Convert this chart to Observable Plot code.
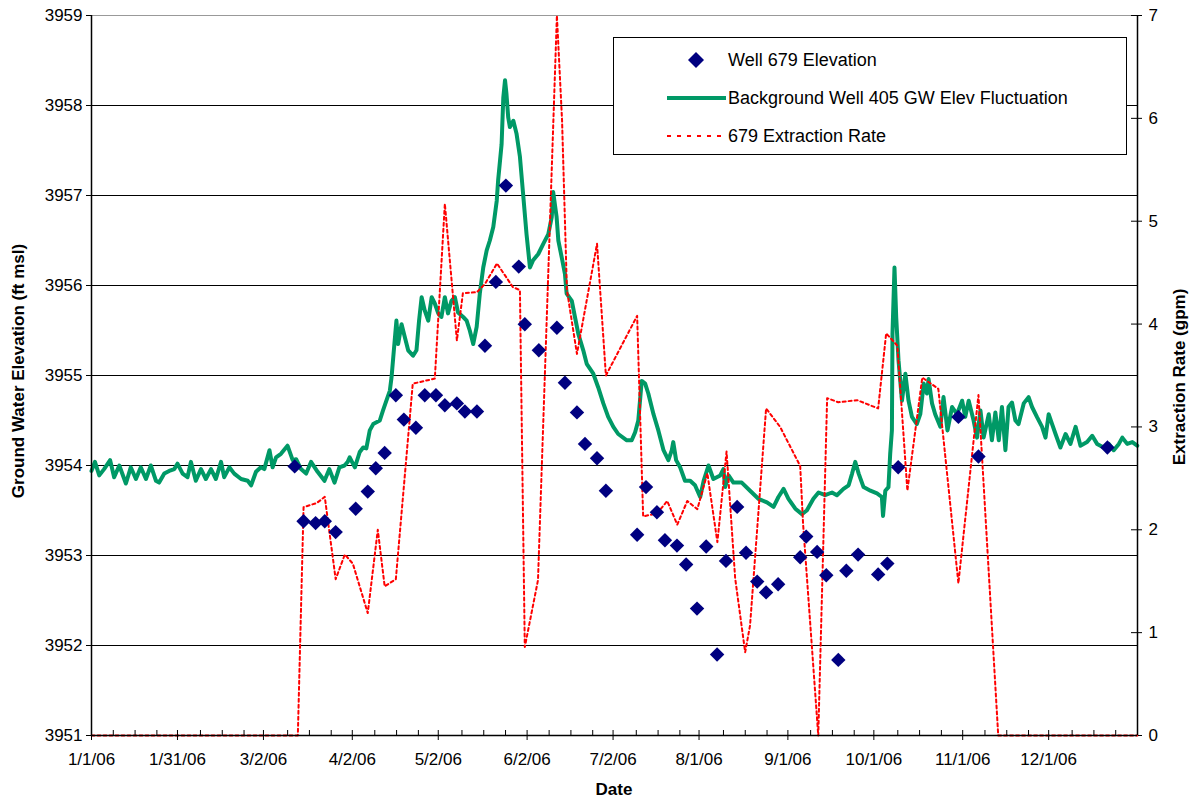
<!DOCTYPE html>
<html>
<head>
<meta charset="utf-8">
<script src="https://cdn.jsdelivr.net/npm/d3@7"></script>
<script src="https://cdn.jsdelivr.net/npm/@observablehq/plot@0.6"></script>
<style>
  body { margin: 0; background: #fff; font-family: Arial, "Liberation Sans", sans-serif; }
  #wrap { position: relative; width: 1192px; height: 802px; overflow: hidden; }
  #chart { position: absolute; left: 0; top: 0; }
  .title { position: absolute; font-weight: bold; font-size: 17px; color: #000; white-space: nowrap; }
  .vtitle { transform: translate(-50%, -50%) rotate(-90deg); }
  #legend { position: absolute; left: 613px; top: 37px; width: 514px; height: 118px; border: 1px solid #000; background: #fff; box-sizing: border-box; }
  .lrow { position: absolute; left: 0; height: 24px; width: 100%; }
  .lrow svg { position: absolute; left: 52px; top: 0; }
  .lrow span { position: absolute; left: 114px; top: 1px; font-size: 18px; line-height: 22px; color: #000; white-space: nowrap; }
</style>
</head>
<body>
<div id="wrap">
  <div id="chart"></div>
  <div class="title vtitle" style="left:19px; top:371px;">Ground Water Elevation (ft msl)</div>
  <div class="title vtitle" style="left:1180px; top:377px;">Extraction Rate (gpm)</div>
  <div class="title" style="left:614px; top:790px; transform: translate(-50%, -50%);">Date</div>
  <div id="legend">
    <div class="lrow" style="top:10px;">
      <svg width="62" height="24"><path d="M30,4 L38,12 L30,20 L22,12 Z" fill="#000080"/></svg>
      <span>Well 679 Elevation</span>
    </div>
    <div class="lrow" style="top:48px;">
      <svg width="62" height="24"><line x1="1" y1="12" x2="60" y2="12" stroke="#009966" stroke-width="4"/></svg>
      <span>Background Well 405 GW Elev Fluctuation</span>
    </div>
    <div class="lrow" style="top:86px;">
      <svg width="62" height="24"><line x1="1" y1="12" x2="60" y2="12" stroke="#ff0000" stroke-width="2" stroke-dasharray="4,6"/></svg>
      <span>679 Extraction Rate</span>
    </div>
  </div>
</div>
<script>
// ---------------- DATA ----------------
// Days are counted from 1/1/06.
const well679Day = [70.9,74.0,78.2,81.4,85.2,92.2,96.4,99.2,102.3,106.2,109.0,113.2,116.3,120.2,123.3,127.5,130.3,134.5,137.3,141.1,144.6,149.1,151.2,156.1,162.4,165.2,169.4,172.2,176.4,179.5,190.4,193.5,197.3,200.1,204.3,207.5,211.3,214.5,218.3,221.4,225.3,228.4,232.3,235.4,239.6,247.3,249.4,253.2,256.4,260.6,263.4,267.5,274.5,277.7,281.5,302.5,309.5,354.5];
const well679Elev = [3953.99,3953.38,3953.36,3953.38,3953.26,3953.52,3953.71,3953.97,3954.14,3954.78,3954.51,3954.42,3954.78,3954.78,3954.67,3954.69,3954.60,3954.60,3955.33,3956.04,3957.11,3956.21,3955.57,3955.28,3955.53,3954.92,3954.59,3954.24,3954.08,3953.72,3953.23,3953.76,3953.48,3953.17,3953.11,3952.90,3952.41,3953.10,3951.90,3952.94,3953.54,3953.03,3952.71,3952.59,3952.68,3952.98,3953.21,3953.04,3952.78,3951.84,3952.83,3953.01,3952.79,3952.91,3953.98,3954.54,3954.10,3954.20];

const bgDay = [0,1.2,2.7,4.4,6.5,7.9,9.7,12.0,13.7,15.5,17.2,19.0,20.7,22.5,23.6,25.4,27.1,28.9,30.0,31.8,33.5,34.7,36.4,38.2,39.9,41.7,43.4,45.2,46.3,48.1,49.8,52.2,54.5,55.7,57.4,59.1,60.3,62.1,63.2,64.4,66.1,68.4,70.2,71.4,73.1,74.9,76.6,78.9,81.3,83.0,84.8,86.5,88.3,89.4,
90.1,91.9,93.6,94.8,95.9,97.1,98.3,100.6,101.7,102.9,104.1,104.7,105.8,106.4,107.0,108.2,109.3,110.5,112.2,113.4,114.3,115.2,116.3,117.5,118.7,119.8,121.0,122.1,123.3,124.4,125.6,126.8,127.9,129.7,130.9,132.0,133.2,134.4,135.5,136.7,137.9,139.0,140.2,141.4,141.9,143.1,143.7,144.3,144.8,145.4,146.0,147.2,148.3,149.5,150.6,151.8,153.0,154.1,155.9,157.6,159.4,160.6,161.1,162.3,162.9,164.1,165.2,165.8,167.6,168.7,169.9,171.6,172.8,175.1,176.8,178.6,180.3,182.1,183.8,186.8,188.5,189.7,190.8,192.0,193.2,194.3,196.1,197.8,199.6,201.3,202.5,203.0,204.0,205.4,207.1,208.9,210.6,212.4,213.6,215.3,217.0,219.4,220.5,221.1,222.3,224.0,226.9,229.8,232.7,235.7,238.0,239.7,241.5,243.2,245.6,247.9,249.6,251.9,253.7,256.0,258.4,260.1,262.4,264.2,265.4,266.5,267.7,269.4,271.8,274.1,275.8,276.2,277.0,278.1,278.7,279.3,279.5,280.2,280.8,281.6,282.8,284.0,285.1,286.3,288.0,289.2,290.4,291.5,292.1,293.3,294.4,296.2,297.3,298.7,300.3,302.0,303.8,304.9,306.1,307.8,309.0,310.2,311.3,313.1,314.2,315.4,316.6,317.7,318.9,320.0,321.2,322.4,323.5,325.3,327.0,328.2,329.9,331.7,332.9,334.0,335.2,336.4,338.1,339.9,341.6,343.4,345.1,347.4,349.2,350.9,353.2,355.0,356.7,358.5,359.7,361.4,363.2,364.9];
const bgElev = [3953.94,3954.04,3953.89,3953.96,3954.06,3953.87,3954.00,3953.80,3953.98,3953.85,3953.98,3953.85,3954.00,3953.83,3953.81,3953.91,3953.94,3953.96,3954.02,3953.91,3953.87,3954.04,3953.83,3953.96,3953.85,3953.96,3953.85,3954.04,3953.87,3953.98,3953.91,3953.85,3953.83,3953.78,3953.93,3953.98,3953.96,3954.17,3953.98,3954.09,3954.13,3954.22,3954.06,3954.07,3953.96,3953.91,3954.04,3953.93,3953.83,3953.96,3953.81,3953.98,3954.00,3954.04,
3954.09,3953.98,3954.15,3954.20,3954.19,3954.39,3954.46,3954.50,3954.61,3954.72,3954.83,3954.98,3955.39,3955.61,3955.35,3955.57,3955.43,3955.28,3955.22,3955.28,3955.61,3955.87,3955.72,3955.61,3955.87,3955.80,3955.69,3955.65,3955.87,3955.69,3955.83,3955.87,3955.70,3955.65,3955.61,3955.50,3955.35,3955.54,3955.91,3956.20,3956.39,3956.50,3956.65,3956.94,3957.17,3957.57,3958.09,3958.28,3958.13,3957.87,3957.76,3957.83,3957.69,3957.43,3957.02,3956.57,3956.20,3956.28,3956.35,3956.46,3956.57,3956.76,3957.04,3956.76,3956.50,3956.31,3956.13,3955.91,3955.83,3955.65,3955.46,3955.28,3955.13,3955.02,3954.87,3954.69,3954.54,3954.43,3954.35,3954.28,3954.28,3954.37,3954.50,3954.94,3954.91,3954.80,3954.57,3954.39,3954.17,3954.06,3954.17,3954.26,3954.06,3953.98,3953.83,3953.83,3953.78,3953.65,3953.83,3954.00,3953.85,3953.89,3953.96,3953.76,3953.89,3953.81,3953.81,3953.72,3953.63,3953.59,3953.54,3953.65,3953.74,3953.63,3953.52,3953.46,3953.50,3953.63,3953.70,3953.67,3953.70,3953.67,3953.74,3953.78,3953.91,3954.04,3953.91,3953.76,3953.72,3953.69,3953.65,3953.44,3953.72,3953.76,3954.13,3954.39,3955.46,3956.20,3955.65,3955.17,3954.72,3955.02,3954.72,3954.54,3954.46,3954.57,3954.91,3954.80,3954.96,3954.69,3954.57,3954.43,3954.76,3954.39,3954.65,3954.57,3954.72,3954.54,3954.72,3954.50,3954.31,3954.61,3954.31,3954.57,3954.28,3954.59,3954.28,3954.65,3954.17,3954.65,3954.70,3954.50,3954.46,3954.69,3954.76,3954.65,3954.54,3954.43,3954.31,3954.57,3954.46,3954.35,3954.20,3954.35,3954.24,3954.43,3954.22,3954.26,3954.33,3954.24,3954.20,3954.24,3954.17,3954.24,3954.31,3954.24,3954.26,3954.22];

const rateDay = [0,72.0,74.0,78.6,81.4,85.2,88.4,91.2,96.4,99.9,102.3,106.2,112.1,119.8,123.3,127.5,129.6,134.5,137.3,141.5,147.0,149.5,151.2,155.8,162.4,164.2,165.9,169.4,176.4,179.5,190.4,192.5,197.4,200.9,204.4,207.9,211.4,214.9,218.4,221.6,224.6,228.1,229.8,235.4,240.3,247.3,248.3,253.6,256.7,260.6,267.2,274.5,277.3,281.2,284.7,289.9,295.5,302.5,309.5,316.4,365];
const rateGpm = [0,0,2.22,2.26,2.32,1.52,1.76,1.67,1.19,2.00,1.45,1.52,3.42,3.47,5.17,3.84,4.30,4.31,4.39,4.59,4.36,4.33,0.86,1.51,7.0,5.98,4.33,3.71,4.78,3.50,4.08,2.13,2.16,2.28,2.05,2.28,2.20,2.55,1.88,2.76,1.53,0.81,1.07,3.18,3.00,2.62,2.06,0,3.28,3.24,3.26,3.18,3.91,3.79,2.38,3.48,3.37,1.48,3.31,0,0];

const elevTicks = [3951,3952,3953,3954,3955,3956,3957,3958,3959];
const rateTicks = [0,1,2,3,4,5,6,7];
const xTickDates = ["2006-01-01","2006-01-31","2006-03-02","2006-04-02","2006-05-02","2006-06-02","2006-07-02","2006-08-01","2006-09-01","2006-10-01","2006-11-01","2006-12-01"];
const xTickLabels = ["1/1/06","1/31/06","3/2/06","4/2/06","5/2/06","6/2/06","7/2/06","8/1/06","9/1/06","10/1/06","11/1/06","12/1/06"];

// ---------------- BUILD ----------------
const t0 = Date.UTC(2006, 0, 1);
const toDate = d => new Date(t0 + d * 864e5);
const rateMax = 7, elevMin = 3951, elevMax = 3959;
const toElev = r => elevMin + r * (elevMax - elevMin) / rateMax;

const well679 = well679Day.map((d, i) => ({date: toDate(d), elev: well679Elev[i]}));
const bg = bgDay.map((d, i) => ({date: toDate(d), elev: bgElev[i]}));
const rate = rateDay.map((d, i) => ({date: toDate(d), rate: rateGpm[i]}));

const xTicks = xTickDates.map(s => new Date(s + "T00:00:00Z"));
const labelByTime = new Map(xTicks.map((d, i) => [+d, xTickLabels[i]]));
const minorTicks = d3.range(48).filter(k => k % 4 !== 0).map(k => toDate(k * 365 / 48));

const W = 1192, H = 802, mL = 91, mR = 55, mT = 15, mB = 67;
const frameW = W - mL - mR, frameH = H - mT - mB;

const chart = Plot.plot({
  width: W, height: H,
  marginLeft: mL, marginRight: mR, marginTop: mT, marginBottom: mB,
  style: {fontFamily: "Arial, 'Liberation Sans', sans-serif", fontSize: "17px", color: "#000", background: "transparent", overflow: "visible"},
  x: {type: "utc", domain: [toDate(0), toDate(365)]},
  y: {domain: [elevMin, elevMax]},
  marks: [
    Plot.ruleY(elevTicks.slice(1, -1), {stroke: "#000", strokeWidth: 1}),
    Plot.ruleY([elevMax], {stroke: "#999", strokeWidth: 1}),
    Plot.line(bg, {x: "date", y: "elev", stroke: "#009966", strokeWidth: 4, strokeLinejoin: "round"}),
    Plot.line(rate, {x: "date", y: d => toElev(d.rate), stroke: "#ff0000", strokeWidth: 2, strokeDasharray: "3,3"}),
    Plot.dot(well679, {x: "date", y: "elev", symbol: "diamond2", r: 6.5, fill: "#000080", stroke: null}),
    Plot.ruleY([elevMin], {stroke: "#000", strokeWidth: 1.5}),
    Plot.ruleX([toDate(0)], {stroke: "#000", strokeWidth: 1.5}),
    Plot.ruleX([toDate(365)], {stroke: "#000", strokeWidth: 1.5}),
    Plot.axisY({anchor: "left", ticks: elevTicks, tickFormat: d => String(d), tickSize: 5, tickPadding: 4, label: null}),
    Plot.axisY({anchor: "right", ticks: rateTicks.map(toElev), tickFormat: d => String(Math.round((d - elevMin) * rateMax / (elevMax - elevMin))), tickSize: 4, tickPadding: 7, label: null}),
    Plot.tickY(rateTicks.map(toElev), {y: d => d, insetLeft: frameW - 6, stroke: "#000"}),
    Plot.axisX({ticks: xTicks, tickFormat: d => labelByTime.get(+d), tickSize: 5, tickPadding: 12, label: null}),
    Plot.tickX(xTicks, {x: d => d, insetTop: frameH - 5, stroke: "#000"}),
    Plot.tickX(minorTicks, {x: d => d, insetTop: frameH - 5, stroke: "#000"})
  ]
});
document.getElementById("chart").appendChild(chart);
</script>
</body>
</html>
